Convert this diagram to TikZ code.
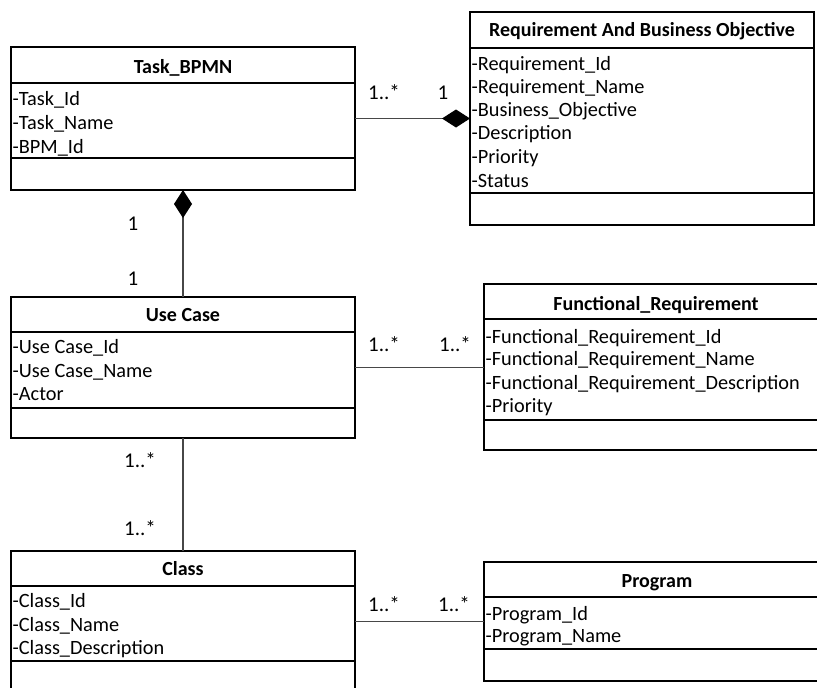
\documentclass[tikz,border=0pt]{standalone}
\usepackage{fontspec}
\setmainfont{Carlito}
\usetikzlibrary{arrows.meta}
\tikzset{
  classbox/.style={draw=black, line width=1.6pt, inner sep=0pt, outer sep=0pt, anchor=north west},
  compsep/.style={draw=black, line width=1.6pt},
  ctitle/.style={font=\bfseries\fontsize{20}{24}\selectfont, anchor=base, inner sep=0pt},
  attr/.style={font=\fontsize{20.3}{24}\selectfont, anchor=base west, inner sep=0pt},
  mult/.style={font=\fontsize{21}{24}\selectfont, anchor=base, inner sep=0pt},
  assoc/.style={draw=black!72, line width=1.2pt},
  composite/.style={assoc, -{Diamond[length=28pt, width=18pt, color=black]}}
}
\begin{document}
\begin{tikzpicture}[x=1pt, y=-1pt]
\useasboundingbox (0,0) rectangle (817,688);
\clip (0,0) rectangle (817,688);

% ---- Task_BPMN ----
\node[classbox, minimum width=344pt, minimum height=143pt] (task) at (11,47) {};
\draw[compsep] (11,83) -- (355,83);
\draw[compsep] (11,158) -- (355,158);
\node[ctitle] (taskT) at (183,73) {Task\_BPMN};
\node[attr] (taskA1) at (12.5,105) {-Task\_Id};
\node[attr] (taskA2) at (12.5,129) {-Task\_Name};
\node[attr] (taskA3) at (12.5,153) {-BPM\_Id};

% ---- Requirement And Business Objective ----
\node[classbox, minimum width=344pt, minimum height=213pt] (req) at (470,12) {};
\draw[compsep] (470,48) -- (814,48);
\draw[compsep] (470,193) -- (814,193);
\node[ctitle] (reqT) at (642,36) {Requirement And Business Objective};
\node[attr] (reqA1) at (471.5,70) {-Requirement\_Id};
\node[attr] (reqA2) at (471.5,93) {-Requirement\_Name};
\node[attr] (reqA3) at (471.5,116) {-Business\_Objective};
\node[attr] (reqA4) at (471.5,139) {-Description};
\node[attr] (reqA5) at (471.5,163) {-Priority};
\node[attr] (reqA6) at (471.5,187) {-Status};

% ---- Use Case ----
\node[classbox, minimum width=344pt, minimum height=141pt] (uc) at (11,297) {};
\draw[compsep] (11,332) -- (355,332);
\draw[compsep] (11,408) -- (355,408);
\node[ctitle] (ucT) at (183,321) {Use Case};
\node[attr] (ucA1) at (12.5,353) {-Use Case\_Id};
\node[attr] (ucA2) at (12.5,377) {-Use Case\_Name};
\node[attr] (ucA3) at (12.5,400) {-Actor};

% ---- Functional_Requirement ----
\node[classbox, minimum width=344pt, minimum height=166pt] (fr) at (484,284) {};
\draw[compsep] (484,319) -- (828,319);
\draw[compsep] (484,420) -- (828,420);
\node[ctitle] (frT) at (656,310) {Functional\_Requirement};
\node[attr] (frA1) at (485.5,343) {-Functional\_Requirement\_Id};
\node[attr] (frA2) at (485.5,365) {-Functional\_Requirement\_Name};
\node[attr] (frA3) at (485.5,389) {-Functional\_Requirement\_Description};
\node[attr] (frA4) at (485.5,412) {-Priority};

% ---- Class ----
\node[classbox, minimum width=344pt, minimum height=142pt] (cls) at (11,551) {};
\draw[compsep] (11,586) -- (355,586);
\draw[compsep] (11,661) -- (355,661);
\node[ctitle] (clsT) at (183,575) {Class};
\node[attr] (clsA1) at (12.5,607) {-Class\_Id};
\node[attr] (clsA2) at (12.5,631) {-Class\_Name};
\node[attr] (clsA3) at (12.5,654) {-Class\_Description};

% ---- Program ----
\node[classbox, minimum width=344pt, minimum height=119pt] (prog) at (484,562) {};
\draw[compsep] (484,597) -- (828,597);
\draw[compsep] (484,649) -- (828,649);
\node[ctitle] (progT) at (657,587) {Program};
\node[attr] (progA1) at (485.5,620) {-Program\_Id};
\node[attr] (progA2) at (485.5,642) {-Program\_Name};

% ---- associations ----
\draw[composite] (task.east) -- (req.west);
\draw[composite] (uc.north) -- (task.south);
\draw[assoc] (uc.east) -- (uc.east -| fr.west);
\draw[assoc] (uc.south) -- (cls.north);
\draw[assoc] (prog.west -| cls.east) -- (prog.west);

% ---- multiplicities ----
\node[mult] (m1) at (384,99) {1..*};
\node[mult] (m2) at (443,99) {1};
\node[mult] (m3) at (133,230) {1};
\node[mult] (m4) at (133,285) {1};
\node[mult] (m5) at (384,351) {1..*};
\node[mult] (m6) at (455,351) {1..*};
\node[mult] (m7) at (140,467) {1..*};
\node[mult] (m8) at (140,535) {1..*};
\node[mult] (m9) at (384,611) {1..*};
\node[mult] (m10) at (454,611) {1..*};
\end{tikzpicture}
\end{document}
